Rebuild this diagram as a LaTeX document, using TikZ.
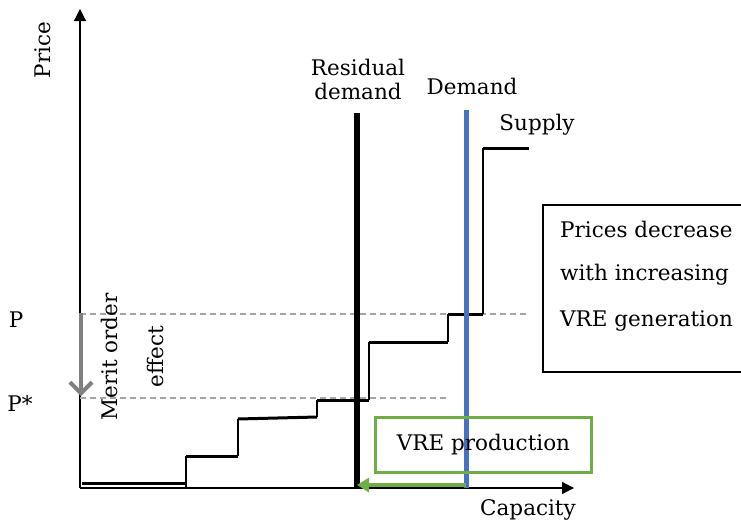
\documentclass[tikz,border=0pt]{standalone}
\usepackage{fontspec}
\setmainfont{DejaVu Serif}
\usetikzlibrary{arrows.meta}
\definecolor{demandblue}{HTML}{4472C4}
\definecolor{vregreen}{HTML}{70AD47}
\definecolor{meritgray}{HTML}{808080}
\definecolor{guidegray}{HTML}{A6A6A6}
\tikzset{
  lbl/.style={font=\fontsize{21.5}{25}\selectfont, inner sep=0pt},
  axis/.style={line width=1.3pt, -{Triangle[length=12pt,width=12pt]}},
  guide/.style={guidegray, line width=1.1pt, dash pattern=on 6pt off 4pt},
  riser/.style={line width=1.3pt},
  tread/.style={line width=3pt},
}
\begin{document}
\begin{tikzpicture}[x=1pt,y=-1pt]
\useasboundingbox (0,0) rectangle (741,522);
\clip (0,0) rectangle (741,522);

% axes
\coordinate (O) at (80,488);
\coordinate (ytop) at (80,9);
\coordinate (xend) at (574,488);
\draw[axis] (O) -- (ytop);
\draw[axis] (O) -- (xend);
\node[lbl, rotate=90] (price) at (43,50) {Price};
\node[lbl] (capacity) at (528,510) {Capacity};

% price levels
\node[lbl] (P) at (16,320) {P};
\node[lbl] (Pstar) at (20,404) {P*};
\coordinate (p0) at (80,314);
\coordinate (p1) at (528,314);
\coordinate (q0) at (80,398);
\coordinate (q1) at (446,398);
\draw[guide] (p0) -- (p1);
\draw[guide] (q0) -- (q1);

% merit order effect
\coordinate (m0) at (81,313);
\coordinate (m1) at (81,396);
\draw[meritgray, line width=4pt, -{Straight Barb[length=11pt,width=22pt,line width=4pt]}] (m0) -- (m1);
\node[lbl, rotate=90] (merit) at (109,357) {Merit order};
\node[lbl, rotate=90] (effect) at (155,357) {effect};

% supply merit-order staircase
\coordinate (s0) at (82,483.5);
\coordinate (s1) at (186,483.5);
\coordinate (s2) at (186,456);
\coordinate (s3) at (238,456);
\coordinate (s4) at (238,419);
\coordinate (s5) at (317,417);
\coordinate (s6) at (317,400);
\coordinate (s7) at (369,400);
\coordinate (s8) at (369,342);
\coordinate (s9) at (448,342);
\coordinate (s10) at (448,314);
\coordinate (s11) at (483,314);
\coordinate (s12) at (483,148);
\coordinate (s13) at (529,148);
\draw[tread] (s0) -- (s1);
\draw[riser] (s1) -- (O -| s1);
\draw[riser] (s1) -- (s2);
\draw[tread] (s2) -- (s3);
\draw[riser] (s3) -- (s4);
\draw[tread] (s4) -- (s5);
\draw[riser] (s5) -- (s6);
\draw[tread] (s6) -- (s7);
\draw[riser] (s7) -- (s8);
\draw[tread] (s8) -- (s9);
\draw[riser] (s9) -- (s10);
\draw[tread] (s10) -- (s11);
\draw[riser] (s11) -- (s12);
\draw[tread] (s12) -- (s13);
\node[lbl] (supply) at (537,125) {Supply};

% demand curves
\coordinate (r0) at (357,113);
\coordinate (r1) at (357,488);
\coordinate (d0) at (466,110);
\coordinate (d1) at (466,488);
\draw[line width=5.5pt] (r0) -- (r1);
\draw[demandblue, line width=5pt] (d0) -- (d1);
\node[lbl, align=center] (resid) at (358,79) {Residual\\[-1pt]demand};
\node[lbl] (demand) at (472,86) {Demand};

% VRE production shift
\node[lbl, draw=vregreen, line width=2.5pt, minimum width=216pt, minimum height=55pt] (vre) at (483.5,445) {VRE production};
\coordinate (g0) at (466,485);
\coordinate (g1) at (357,485);
\draw[vregreen, line width=3.5pt, -{Triangle[length=12pt,width=14pt]}] (g0) -- (g1);

% explanatory box
\coordinate (b0) at (543,205);
\coordinate (b1) at (770,372);
\draw[line width=2.2pt] (b0) rectangle (b1);
\node[lbl, anchor=west] (t1) at (560,229) {Prices decrease};
\node[lbl, anchor=west] (t2) at (560,275) {with increasing};
\node[lbl, anchor=west] (t3) at (560,321) {VRE generation};
\end{tikzpicture}
\end{document}
